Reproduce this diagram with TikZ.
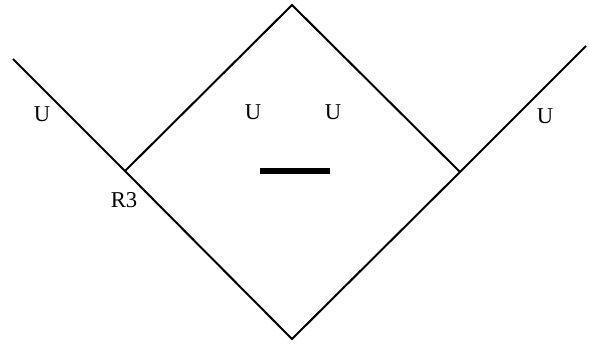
\documentclass[tikz,border=0pt]{standalone}
\usepackage{fontspec}
\setmainfont{Liberation Serif}
\begin{document}
\begin{tikzpicture}[x=0.75pt,y=-0.75pt,
  wire/.style={line width=1.5pt,line join=miter},
  lbl/.style={inner sep=0pt,font=\fontsize{17}{20}\selectfont}]
\useasboundingbox (0,0) rectangle (589,345);
\coordinate (lend) at (13,59);
\coordinate (lj) at (125,171);
\coordinate (top) at (292,5);
\coordinate (rj) at (460,172);
\coordinate (bot) at (292,339);
\coordinate (rend) at (586,46);
\draw[wire] (lend) -- (lj) -- (bot) -- (rj) -- (rend);
\draw[wire] (lj) -- (top) -- (rj);
\coordinate (barl) at (260,171);
\coordinate (barr) at (330,171);
\draw[line width=4pt] (barl) -- (barr);
\node[lbl] (u1) at (42,114) {U};
\node[lbl] (u2) at (253,112) {U};
\node[lbl] (u3) at (333,112) {U};
\node[lbl] (u4) at (545,116) {U};
\node[lbl] (r3) at (124,200) {R3};
\end{tikzpicture}
\end{document}
